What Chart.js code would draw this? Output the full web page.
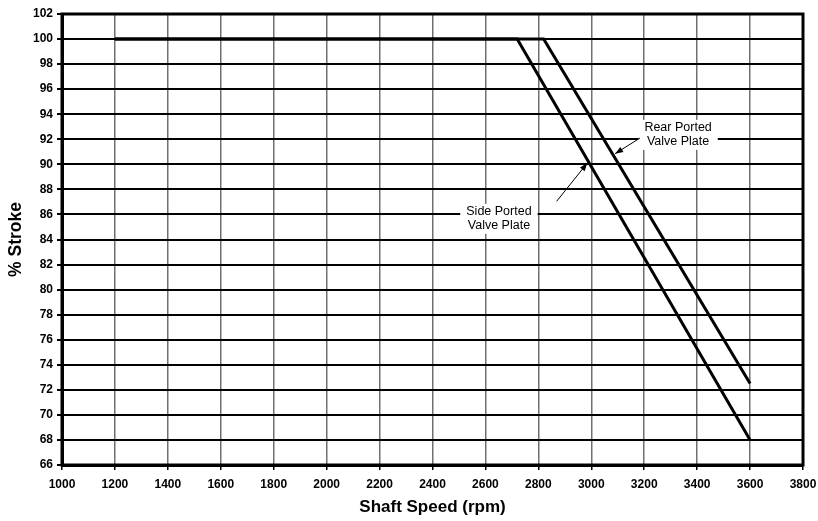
<!DOCTYPE html>
<html>
<head>
<meta charset="utf-8">
<script src="https://cdn.jsdelivr.net/npm/chart.js@4/dist/chart.umd.min.js"></script>
<style>
html,body{margin:0;padding:0;background:#fff;}
#wrap{width:818px;height:521px;position:relative;}
</style>
</head>
<body>
<div id="wrap"><canvas id="c" width="818" height="521"></canvas></div>
<script>
// Data
const sidePortedSpeed = [1200, 2720, 3600];
const sidePortedStroke = [100, 100, 68];
const rearPortedSpeed = [1200, 2820, 3600];
const rearPortedStroke = [100, 100, 72.5];
const xTicks = [1000,1200,1400,1600,1800,2000,2200,2400,2600,2800,3000,3200,3400,3600,3800];
const yTicks = [66,68,70,72,74,76,78,80,82,84,86,88,90,92,94,96,98,100,102];
const seriesLabels = ['Side Ported Valve Plate', 'Rear Ported Valve Plate'];

const toPts = (xs, ys) => xs.map((x, i) => ({x: x, y: ys[i]}));

const annotations = [
  {lines: ['Rear Ported', 'Valve Plate'], cx: 3328, cy: 92.35, tail: [3184, 92.1], head: [3090, 90.85]},
  {lines: ['Side Ported', 'Valve Plate'], cx: 2651, cy: 85.65, tail: [2869, 87.05], head: [2985, 90.1]}
];

const FONT = '"Liberation Sans", Arial, sans-serif';

const frameAndNotes = {
  id: 'frameAndNotes',
  afterDatasetsDraw(chart) {
    const ctx = chart.ctx, xs = chart.scales.x, ys = chart.scales.y, a = chart.chartArea;
    ctx.save();
    ctx.font = '12.5px ' + FONT;
    ctx.textAlign = 'center';
    ctx.textBaseline = 'middle';
    annotations.forEach(n => {
      const cx = xs.getPixelForValue(n.cx), cy = ys.getPixelForValue(n.cy);
      const w = Math.max(...n.lines.map(l => ctx.measureText(l).width)) + 12;
      const h = 30;
      ctx.fillStyle = '#fff';
      ctx.fillRect(cx - w / 2, cy - h / 2, w, h);
      ctx.fillStyle = '#000';
      n.lines.forEach((l, i) => ctx.fillText(l, cx, cy + (i - (n.lines.length - 1) / 2) * 14));
      const tx = xs.getPixelForValue(n.tail[0]), ty = ys.getPixelForValue(n.tail[1]);
      const hx = xs.getPixelForValue(n.head[0]), hy = ys.getPixelForValue(n.head[1]);
      ctx.strokeStyle = '#000';
      ctx.lineWidth = 1;
      ctx.beginPath(); ctx.moveTo(tx, ty); ctx.lineTo(hx, hy); ctx.stroke();
      const ang = Math.atan2(hy - ty, hx - tx), L = 8, W = 3;
      ctx.beginPath();
      ctx.moveTo(hx, hy);
      ctx.lineTo(hx - L * Math.cos(ang) + W * Math.sin(ang), hy - L * Math.sin(ang) - W * Math.cos(ang));
      ctx.lineTo(hx - L * Math.cos(ang) - W * Math.sin(ang), hy - L * Math.sin(ang) + W * Math.cos(ang));
      ctx.closePath();
      ctx.fillStyle = '#000';
      ctx.fill();
    });
    ctx.strokeStyle = '#000';
    ctx.lineWidth = 3;
    ctx.strokeRect(a.left, a.top, a.right - a.left, a.bottom - a.top);
    ctx.restore();
  }
};

new Chart(document.getElementById('c'), {
  type: 'line',
  data: {
    datasets: [
      {label: seriesLabels[0], data: toPts(sidePortedSpeed, sidePortedStroke), borderColor: '#000', borderWidth: 3, pointRadius: 0, fill: false, tension: 0},
      {label: seriesLabels[1], data: toPts(rearPortedSpeed, rearPortedStroke), borderColor: '#000', borderWidth: 3, pointRadius: 0, fill: false, tension: 0}
    ]
  },
  options: {
    responsive: false,
    animation: false,
    devicePixelRatio: 1,
    layout: {padding: {left: 6, top: 14, right: 15, bottom: 0}},
    plugins: {legend: {display: false}, tooltip: {enabled: false}},
    scales: {
      x: {
        type: 'linear', min: 1000, max: 3800,
        afterBuildTicks: s => { s.ticks = xTicks.map(v => ({value: v})); },
        afterFit: s => { s.height = 56; s.paddingRight = 0; s.paddingLeft = 0; },
        grid: {color: '#707070', lineWidth: 1.5, tickLength: 5, tickColor: '#000', drawOnChartArea: true},
        border: {color: '#000', width: 3},
        ticks: {color: '#000', font: {family: FONT, size: 12, weight: 'bold'}, padding: 7, maxRotation: 0, autoSkip: false, callback: v => String(v)},
        title: {display: true, text: 'Shaft Speed (rpm)', color: '#000', font: {family: FONT, size: 17, weight: 'bold'}, padding: {top: 2, bottom: 3}}
      },
      y: {
        min: 66, max: 102,
        afterBuildTicks: s => { s.ticks = yTicks.map(v => ({value: v})); },
        afterFit: s => { s.width = 56; s.paddingTop = 0; s.paddingBottom = 0; },
        grid: {color: '#000', lineWidth: 2, tickLength: 5, tickColor: '#000'},
        border: {color: '#000', width: 3},
        ticks: {color: '#000', font: {family: FONT, size: 12, weight: 'bold'}, padding: 4, autoSkip: false, callback: v => String(v)},
        title: {display: true, text: '% Stroke', color: '#000', font: {family: FONT, size: 17.5, weight: 'bold'}, padding: {top: 0, bottom: 0}}
      }
    }
  },
  plugins: [frameAndNotes]
});
</script>
</body>
</html>
